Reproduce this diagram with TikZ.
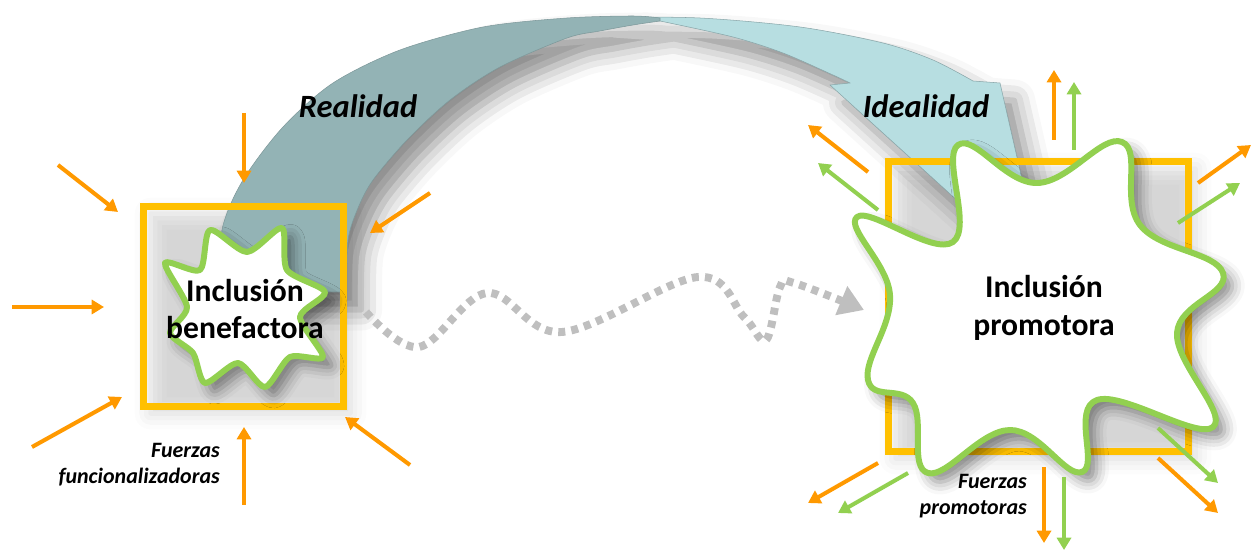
\documentclass[tikz,border=0pt]{standalone}
\usepackage{fontspec}
\setmainfont{Carlito}
\usetikzlibrary{arrows.meta,shadows.blur}

\definecolor{oro}{HTML}{FFC000}
\definecolor{naranja}{HTML}{FF9900}
\definecolor{verde}{HTML}{92D050}
\definecolor{realcol}{HTML}{93B3B5}
\definecolor{idealcol}{HTML}{B7DEE1}
\definecolor{puntos}{HTML}{BFBFBF}

\tikzset{
  caja/.style={draw=oro, line width=4pt},
  estrella/.style={draw=verde, fill=white, line width=3.4pt, line join=round},
  fuerza/.style={naranja, line width=2.3pt, -{Triangle[length=7pt,width=8pt]}},
  fuerzav/.style={fuerza, verde},
  sombra/.style={blur shadow={shadow xshift=5pt, shadow yshift=-5pt,
      shadow blur radius=7pt, shadow opacity=45}},
  sombraarco/.style={blur shadow={shadow xshift=8pt, shadow yshift=-10pt,
      shadow blur radius=12pt, shadow opacity=45}},
  sombrasuave/.style={blur shadow={shadow xshift=4pt, shadow yshift=-4pt,
      shadow blur radius=9pt, shadow opacity=16}},
  punteada/.style={puntos, line width=4.5pt, dash pattern=on 4pt off 3.5pt,
      -{Triangle[length=14pt,width=17pt]}},
  titulo/.style={font=\fontsize{18}{21.5}\selectfont\bfseries, align=center},
  etiqueta/.style={font=\fontsize{18.5}{22}\selectfont\bfseries\itshape},
  fuerzas/.style={font=\fontsize{12.5}{14.7}\selectfont\bfseries\itshape, align=right},
}

\def\arcoideal{plot[smooth] coordinates {(600,17) (700,18) (800,27) (883,43) (933,60) (973,81)}
    -- (1000,83) -- (1045,280) -- (830,85)
    -- plot[smooth] coordinates {(850,83) (833,75) (783,53) (733,37) (660,21)} -- cycle}
\def\arcoreal{plot[smooth] coordinates {(222,292) (222,230) (243,180) (283,127) (333,83)
      (400,50) (483,27) (567,18) (633,16) (660,18)}
    -- plot[smooth] coordinates {(660,21) (633,25) (600,31) (567,38) (500,67) (450,100)
      (407,140) (373,180) (358,208) (348,240) (347,292)} -- cycle}

\begin{document}
\begin{tikzpicture}[x=0.02cm,y=-0.02cm]
  \useasboundingbox (0,0) rectangle (1251,550);

  % sombras de las cajas y del arco
  \path[sombrasuave] (143.5,206.5) rectangle (343.5,406.5);
  \path[sombrasuave] (888.5,161.5) rectangle (1188.5,451.5);
  \path[sombraarco] \arcoideal \arcoreal;

  % arco realidad -> idealidad
  \filldraw[fill=idealcol, draw=idealcol!75!black, line width=0.3pt] \arcoideal;
  \filldraw[fill=realcol, draw=realcol!85!black, line width=0.3pt] \arcoreal;

  % camino punteado
  \coordinate (salida) at (366,312);
  \coordinate (llegada) at (864,310);
  \draw[punteada] plot[smooth, tension=0.6] coordinates {(salida) (419,347) (487,293)
    (562,332) (698,277) (744,317) (766,340) (780,287) (794,283) (llegada)};

  % cajas
  \draw[caja] (143.5,206.5) rectangle (343.5,406.5);
  \draw[caja] (888.5,161.5) rectangle (1188.5,451.5);

  % estrellas
  \draw[estrella, sombra] plot[smooth cycle, tension=0.45] coordinates {(210,230) (247,252)
    (282,228) (287,270) (325,292) (300,317) (323,357) (290,357) (265,387) (238,363)
    (205,383) (193,353) (170,333) (187,307) (165,263) (200,270)};
  \draw[estrella, sombra] plot[smooth cycle, tension=0.7] coordinates {(857,217) (953,242)
    (958,145) (1037,183) (1122,142) (1140,225) (1223,273) (1177,333) (1213,427)
    (1097,400) (1082,472) (1010,430) (928,473) (913,403) (868,380) (890,295)};

  % fuerzas funcionalizadoras
  \foreach \a/\b in {{244,113}/{244,183}, {58,165}/{118,212}, {12,307}/{104,307},
      {32,447}/{122,397}, {244,505}/{244,427}, {410,465}/{345,417}, {430,193}/{370,233}}
    \draw[fuerza] (\a) -- (\b);

  % fuerzas promotoras
  \foreach \a/\b in {{1054,140}/{1054,70}, {868,172}/{808,125}, {1198,183}/{1251,145},
      {1158,458}/{1218,513}, {1044,467}/{1044,543}, {878,463}/{808,503}}
    \draw[fuerza] (\a) -- (\b);
  \foreach \a/\b in {{1074,150}/{1074,82}, {878,210}/{818,163}, {1178,223}/{1240,183},
      {1158,428}/{1218,483}, {1064,477}/{1064,550}, {908,473}/{838,513}}
    \draw[fuerzav] (\a) -- (\b);

  % textos
  \node[titulo] (benef) at (245,309) {Inclusión\\benefactora};
  \node[titulo] (promo) at (1044,308) {Inclusión\\promotora};
  \node[etiqueta] (real) at (358,106) {Realidad};
  \node[etiqueta] (ideal) at (926,106) {Idealidad};
  \node[fuerzas, anchor=east] (ffun) at (226,465) {Fuerzas\\funcionalizadoras};
  \node[fuerzas, anchor=east] (fprom) at (1033,496) {Fuerzas\\promotoras};
\end{tikzpicture}
\end{document}
